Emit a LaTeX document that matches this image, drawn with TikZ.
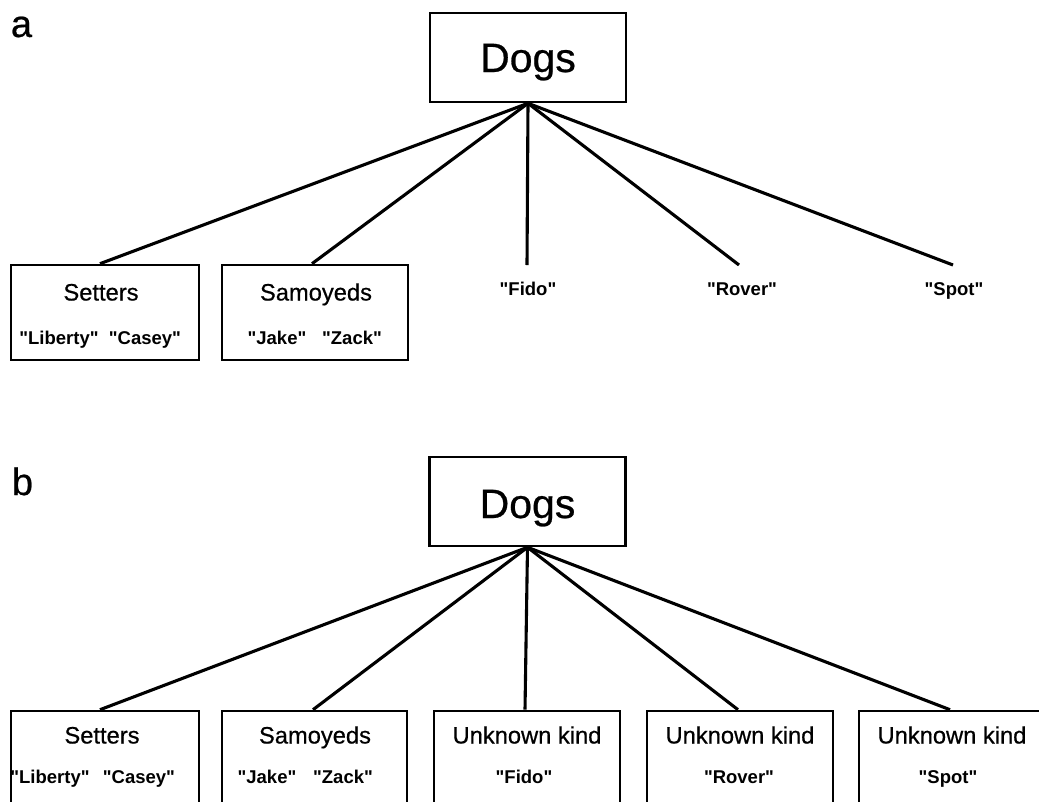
\documentclass[tikz,border=0pt]{standalone}
\usepackage{fontspec}
\setmainfont{Liberation Sans}[FakeBold=0.6]
\newfontfamily\namefont{Liberation Sans Bold}
\newcommand{\q}[1]{\textquotedbl#1\textquotedbl}
\begin{document}
\begin{tikzpicture}[x=1pt,y=-1pt,
  box/.style={draw, line width=2.6pt, inner sep=0pt, minimum width=187pt, minimum height=95pt},
  rootbox/.style={draw, line width=2.6pt, inner sep=0pt, minimum width=196pt, minimum height=89pt},
  link/.style={line width=3.1pt},
  kind/.style={font=\fontsize{23.7}{28}\selectfont, inner sep=0pt, anchor=base},
  nm/.style={font=\namefont\fontsize{18.5}{22}\selectfont, inner sep=0pt, anchor=base},
  big/.style={font=\fontsize{41}{48}\selectfont, inner sep=0pt, anchor=base},
  panel/.style={font=\fontsize{38}{44}\selectfont, inner sep=0pt, anchor=base}]
\useasboundingbox (0,0) rectangle (1039,801);
\clip (0,0) rectangle (1039,801);
\fill[white] (0,0) rectangle (1039,801);

% ---------- panel a ----------
\node[panel] (la) at (21.5,37) {a};
\node[rootbox] (dogsA) at (528,57.5) {};
\node[big] (dogsAt) at (528,72) {Dogs};

\node[box, minimum width=188pt] (setA) at (105,312.5) {};
\node[kind] (setAt) at (101,300.5) {Setters};
\node[nm] (libA) at (59,344) {\q{Liberty}};
\node[nm] (casA) at (145,344) {\q{Casey}};

\node[box, minimum width=186pt] (samA) at (315,312.5) {};
\node[kind] (samAt) at (316,300.5) {Samoyeds};
\node[nm] (jakA) at (277,344) {\q{Jake}};
\node[nm] (zacA) at (352,344) {\q{Zack}};

\coordinate (fidoAtop) at (527,265);
\coordinate (roverAtop) at (739,265);
\coordinate (spotAtop) at (953,265);
\node[nm] (fidoA) at (528,295) {\q{Fido}};
\node[nm] (roverA) at (742,295) {\q{Rover}};
\node[nm] (spotA) at (954,295) {\q{Spot}};

\draw[link] (dogsA.south) -- ([xshift=-5pt]setA.north);
\draw[link] (dogsA.south) -- ([xshift=-3pt]samA.north);
\draw[link] (dogsA.south) -- (fidoAtop);
\draw[link] (dogsA.south) -- (roverAtop);
\draw[link] (dogsA.south) -- (spotAtop);

% ---------- panel b ----------
\node[panel] (lb) at (22.5,495) {b};
\node[rootbox] (dogsB) at (527.5,501.5) {};
\node[big] (dogsBt) at (527.5,518) {Dogs};

\node[box, minimum width=188pt] (setB) at (105,758.5) {};
\node[kind] (setBt) at (102,743.5) {Setters};
\node[nm] (libB) at (50,783) {\q{Liberty}};
\node[nm] (casB) at (139,783) {\q{Casey}};

\node[box, minimum width=185pt] (samB) at (314.5,758.5) {};
\node[kind] (samBt) at (315,743.5) {Samoyeds};
\node[nm] (jakB) at (267,783) {\q{Jake}};
\node[nm] (zacB) at (343,783) {\q{Zack}};

\node[box, minimum width=186pt] (fidB) at (527,758.5) {};
\node[kind] (fidBt) at (527,743.5) {Unknown kind};
\node[nm] (fidoB) at (524,783) {\q{Fido}};

\node[box, minimum width=186pt] (rovB) at (740,758.5) {};
\node[kind] (rovBt) at (740,743.5) {Unknown kind};
\node[nm] (roverB) at (739,783) {\q{Rover}};

\node[box, minimum width=187pt] (spoB) at (952.5,758.5) {};
\node[kind] (spoBt) at (952,743.5) {Unknown kind};
\node[nm] (spotB) at (948,783) {\q{Spot}};

\draw[link] (dogsB.south) -- ([xshift=-5pt]setB.north);
\draw[link] (dogsB.south) -- ([xshift=-1.5pt]samB.north);
\draw[link] (dogsB.south) -- ([xshift=-2pt]fidB.north);
\draw[link] (dogsB.south) -- ([xshift=-2pt]rovB.north);
\draw[link] (dogsB.south) -- ([xshift=-2.5pt]spoB.north);
\end{tikzpicture}
\end{document}
